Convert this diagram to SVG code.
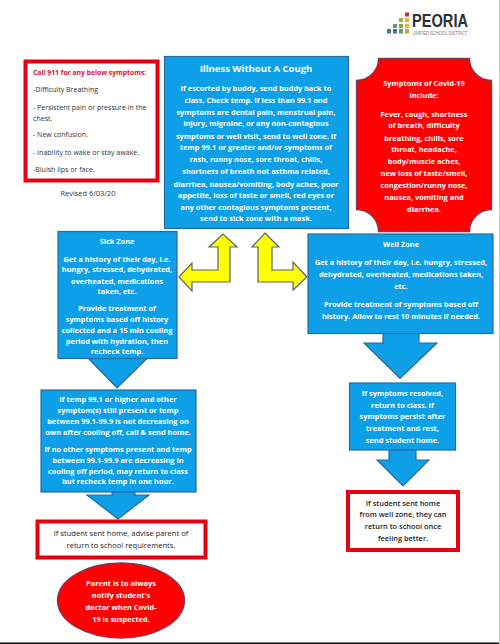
<svg xmlns="http://www.w3.org/2000/svg" width="500" height="644" viewBox="0 0 500 644">
<style>
text{font-family:"Open Sans","Noto Sans","Liberation Sans",sans-serif;font-weight:600;text-anchor:middle}
.w{fill:#fff;font-size:7.4px;font-weight:700}
.k{fill:#222;font-size:7.4px;font-weight:600}
.l{fill:#333;font-size:7.050px;font-weight:400;text-anchor:start}
.b{fill:#0d9fe8;stroke:#2a6a9c;stroke-width:1.2}
.r{fill:#fff;stroke:#e60012;stroke-width:4}
.y{fill:#ffff00;stroke:#5a6472;stroke-width:1.2}
.red{fill:#ff0000;stroke:#7a3a5a;stroke-width:1.3}
</style>
<rect width="500" height="644" fill="#fff"/>
<g id="logo">
<g fill="#3c7f93"><rect x="387" y="29" width="4" height="4.500"/><rect x="393" y="29" width="4" height="4.500"/></g>
<rect x="399" y="29" width="4" height="4.500" fill="#6d9a5a"/>
<rect x="405" y="29" width="4" height="4.500" fill="#c9a63a"/>
<rect x="393" y="24" width="4" height="4" fill="#6d9a5a"/><rect x="399" y="24" width="4" height="4" fill="#8aa84a"/><rect x="405" y="24" width="4" height="4" fill="#e0b53a"/>
<rect x="399" y="18" width="4" height="4" fill="#a5b04a"/><rect x="405" y="18" width="4" height="4" fill="#e0b53a"/>
<rect x="405" y="12.500" width="4" height="4" fill="#c03040"/>
<text x="440" y="27" style="font-family:'Liberation Sans',sans-serif;font-size:19px;font-weight:700;fill:#2c3138" textLength="56" lengthAdjust="spacingAndGlyphs">PEORIA</text>
<text x="440" y="34.500" style="font-family:'Liberation Sans',sans-serif;font-size:4.500px;font-weight:400;fill:#777" textLength="55" lengthAdjust="spacingAndGlyphs">UNIFIED SCHOOL DISTRICT</text>
</g>
<g id="connectors">
<path class="b" d="M88.500 358.500H147L117 388Z"/>
<path class="b" d="M112 490V495H87L118 519L149 495H135V490Z"/>
<path class="b" d="M383 332V343H364L400 378.500L437 343H419V332Z"/>
<path class="b" d="M389 449V460H377L403 486L429 460H416V449Z"/>
<path class="y" d="M179 277L192 263V270H218V247H209L223 234L237 247H230V282H192V291Z"/>
<path class="y" d="M265 233L279 247H272V270H293V262L307 277L293 290V282H258V247H252Z"/>
</g>
<g id="emergency">
<rect class="r" x="25.500" y="61.500" width="132" height="119"/>
<text class="l" x="33" y="75" style="fill:#d8121f;font-weight:700;font-size:6.800px">Call 911 for any below symptoms:</text>
<text class="l" x="33" y="92">-Difficulty Breathing</text>
<text class="l" x="33" y="110">- Persistent pain or pressure in the</text>
<text class="l" x="33" y="121">chest.</text>
<text class="l" x="33" y="137">- New confusion.</text>
<text class="l" x="33" y="155">- Inability to wake or stay awake.</text>
<text class="l" x="33" y="172">-Bluish lips or face.</text>
</g>
<g id="revised"><text x="88" y="196" style="font-size:7.400px;font-weight:400;fill:#333">Revised 6/03/20</text></g>
<g id="illness">
<rect class="b" x="164.500" y="56.500" width="184" height="172"/>
<text class="w" x="256" y="72" style="font-size:9.500px">Illness Without A Cough</text>
<text class="w" x="256" y="91">If escorted by buddy, send buddy back to</text>
<text class="w" x="256" y="102.500">class. Check temp. If less than 99.1 and</text>
<text class="w" x="256" y="115">symptoms are dental pain, menstrual pain,</text>
<text class="w" x="256" y="126">injury, migraine, or any non-contagious</text>
<text class="w" x="256" y="139">symptoms or well visit, send to well zone. If</text>
<text class="w" x="256" y="150">temp 99.1 or greater and/or symptoms of</text>
<text class="w" x="256" y="162">rash, runny nose, sore throat,  chills,</text>
<text class="w" x="256" y="174">shortness of breath not asthma related,</text>
<text class="w" x="256" y="187">diarrhea, nausea/vomiting, body aches, poor</text>
<text class="w" x="256" y="197.500">appetite, loss of taste or smell, red eyes or</text>
<text class="w" x="256" y="210">any other contagious symptoms present,</text>
<text class="w" x="256" y="221">send to sick zone with a mask.</text>
</g>
<g id="symptoms">
<path class="red" d="M378.500 58.500H469.500A22 22 0 0 0 491.500 80.500V209.500A22 22 0 0 0 469.500 231.500H378.500A22 22 0 0 0 356.500 209.500V80.500A22 22 0 0 0 378.500 58.500Z"/>
<text class="w" x="424" y="86">Symptoms of Covid-19</text>
<text class="w" x="424" y="98">include:</text>
<text class="w" x="424" y="117">Fever, cough, shortness</text>
<text class="w" x="424" y="128">of breath, difficulty</text>
<text class="w" x="424" y="140.500">breathing, chills, sore</text>
<text class="w" x="424" y="152">throat, headache,</text>
<text class="w" x="424" y="164">body/muscle aches,</text>
<text class="w" x="424" y="176">new loss of taste/smell,</text>
<text class="w" x="424" y="188">congestion/runny nose,</text>
<text class="w" x="424" y="200">nausea, vomiting and</text>
<text class="w" x="424" y="211.500">diarrhea.</text>
</g>
<g id="sick-zone">
<rect class="b" x="58" y="231.500" width="119" height="127"/>
<text class="w" x="117" y="243.500">Sick Zone</text>
<text class="w" x="117" y="261.500">Get a history of their day, i.e.</text>
<text class="w" x="117" y="272">hungry, stressed, dehydrated,</text>
<text class="w" x="117" y="283.500">overheated, medications</text>
<text class="w" x="117" y="294">taken, etc.</text>
<text class="w" x="117" y="311">Provide treatment of</text>
<text class="w" x="117" y="322">symptoms based off history</text>
<text class="w" x="117" y="333">collected and a 15 min cooling</text>
<text class="w" x="117" y="343.500">period with hydration, then</text>
<text class="w" x="117" y="354">recheck temp.</text>
</g>
<g id="sick-followup">
<rect class="b" x="41" y="390" width="155" height="102"/>
<text class="w" x="118" y="402">If temp 99.1 or higher and other</text>
<text class="w" x="118" y="412.500">symptom(s) still present or temp</text>
<text class="w" x="118" y="424">between 99.1-99.9 is not decreasing on</text>
<text class="w" x="118" y="434.500">own after cooling off, call &amp; send home.</text>
<text class="w" x="118" y="451.500">If no other symptoms present and temp</text>
<text class="w" x="118" y="462.500">between 99.1-99.9 are decreasing in</text>
<text class="w" x="118" y="473.500">cooling off period, may return to class</text>
<text class="w" x="118" y="484">but recheck temp in one hour.</text>
</g>
<g id="advise">
<rect class="r" x="37.500" y="521.500" width="168" height="36"/>
<text class="k" x="121" y="535.500" style="font-weight:400;font-size:7.600px">If student sent home, advise parent of</text>
<text class="k" x="121" y="548" style="font-weight:400;font-size:7.600px">return to school requirements.</text>
</g>
<g id="parent">
<ellipse class="red" cx="121" cy="600.500" rx="63.500" ry="37.500"/>
<text class="w" x="121" y="586">Parent is to always</text>
<text class="w" x="121" y="598">notify student's</text>
<text class="w" x="121" y="610">doctor when Covid-</text>
<text class="w" x="121" y="622">19 is suspected.</text>
</g>
<g id="well-zone">
<rect class="b" x="308" y="234" width="185" height="99.500"/>
<text class="w" x="401" y="247">Well Zone</text>
<text class="w" x="401" y="265">Get a history of their day, i.e. hungry, stressed,</text>
<text class="w" x="401" y="277">dehydrated, overheated, medications taken,</text>
<text class="w" x="401" y="288.500">etc.</text>
<text class="w" x="401" y="307">Provide treatment of symptoms based off</text>
<text class="w" x="401" y="319">history. Allow to rest 10 minutes if needed.</text>
</g>
<g id="well-followup">
<rect class="b" x="349.500" y="383" width="106" height="67"/>
<text class="w" x="402.500" y="395.500">If symptoms resolved,</text>
<text class="w" x="402.500" y="407.500">return to class. If</text>
<text class="w" x="402.500" y="419">symptoms persist after</text>
<text class="w" x="402.500" y="431">treatment and rest,</text>
<text class="w" x="402.500" y="443">send student home.</text>
</g>
<g id="well-return">
<rect class="r" x="348" y="492" width="110" height="58"/>
<text class="k" x="403" y="505.500">If student sent home</text>
<text class="k" x="403" y="517">from well zone, they can</text>
<text class="k" x="403" y="529">return to school once</text>
<text class="k" x="403" y="540.500">feeling better.</text>
</g>
<rect x="0" y="642.500" width="500" height="1.500" fill="#111"/>
<rect x="499" y="0" width="1" height="644" fill="#ccc"/>
</svg>
